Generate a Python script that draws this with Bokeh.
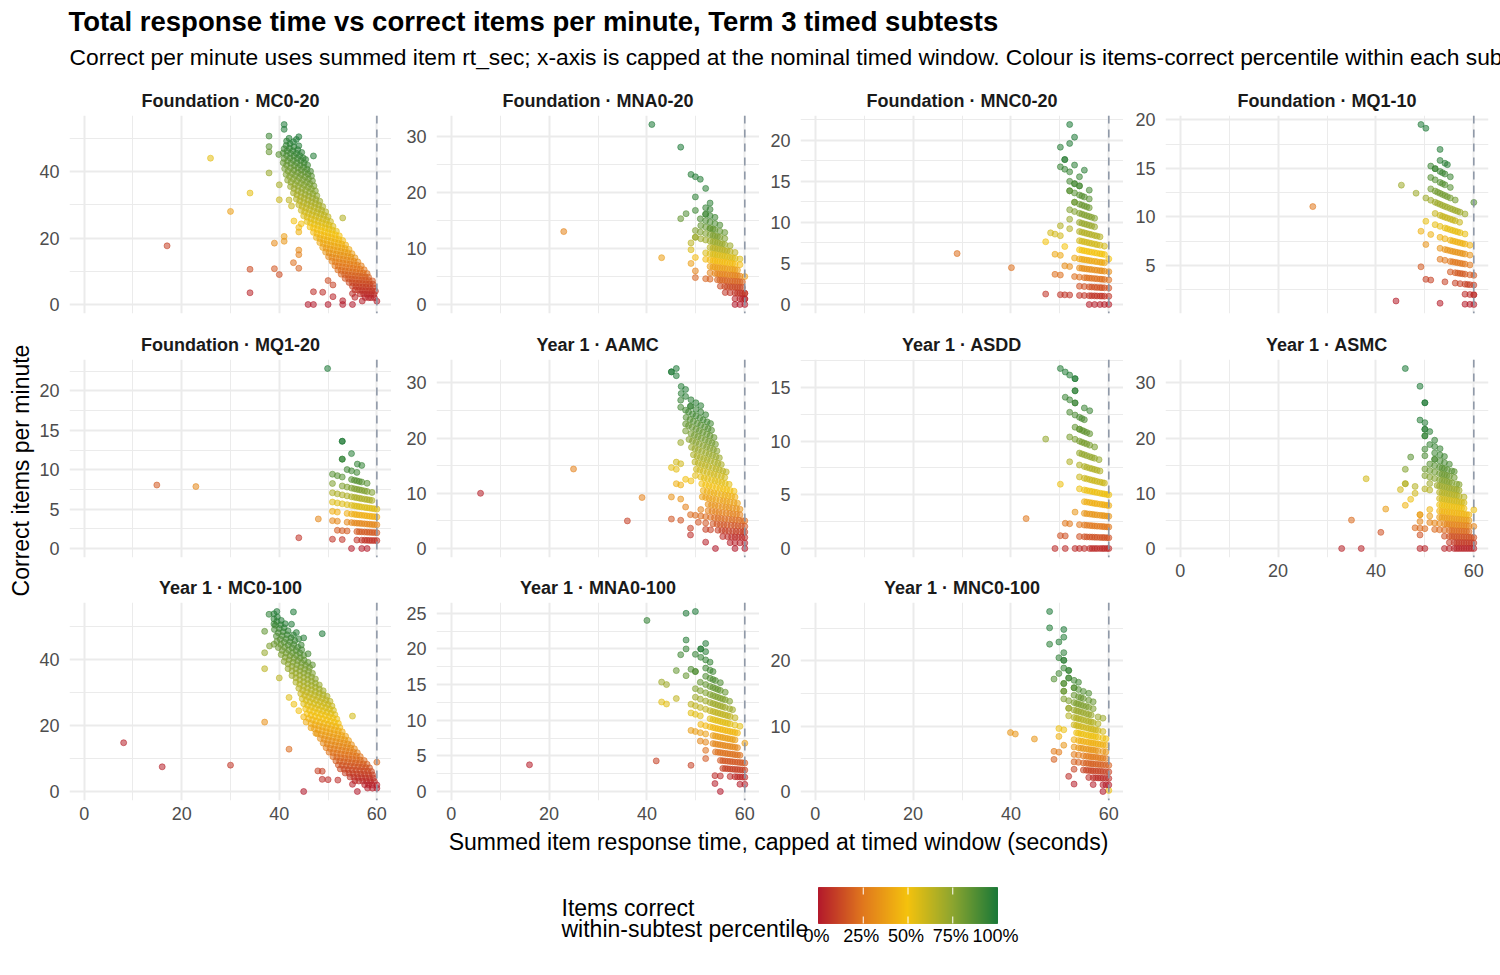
import numpy as np
import pandas as pd
from bokeh.plotting import figure
from bokeh.models import Range1d, FixedTicker, Span, ColumnDataSource
from bokeh.layouts import column, row
from bokeh.embed import file_html
from bokeh.resources import INLINE
from bokeh.core.properties import value

FONT = "Liberation Sans"

TITLE = "Total response time vs correct items per minute, Term 3 timed subtests"
SUBTITLE = ("Correct per minute uses summed item rt_sec; x-axis is capped at the nominal timed window. "
            "Colour is items-correct percentile within each subtest.")
X_TITLE = "Summed item response time, capped at timed window (seconds)"
Y_TITLE = "Correct items per minute"
LEGEND_TITLE = ["Items correct", "within-subtest percentile"]
LEGEND_BREAKS = [0.0, 0.25, 0.5, 0.75, 1.0]
LEGEND_LABELS = ["0%", "25%", "50%", "75%", "100%"]

TIME_WINDOW = 60
X_TICKS = [0, 20, 40, 60]

# Each subtest: (items correct, [summed response time in seconds of each student with that score])
FOUND_MC0_20 = [
    (37, [41.0, 44.0]), (36, [41.0, 43.5]), (35, [42.0, 42.9, 44.0, 47.0]),
    (34, [41.5, 42.2, 43.0, 43.8, 44.6]),
    (33, [41.4, 42.1, 42.8, 43.5, 44.2, 44.9, 45.4]),
    (32, [37.9, 41.0, 41.6, 42.3, 43.0, 43.7, 44.4, 45.1, 45.8]),
    (31, [40.8, 41.5, 42.2, 42.9, 43.6, 44.3, 45.0, 45.7, 46.4]),
    (30, [37.9, 39.9, 41.0, 41.7, 42.4, 43.1, 43.8, 44.5, 45.2, 45.9, 46.6]),
    (29, [37.9, 40.8, 41.5, 42.3, 43.0, 43.8, 44.5, 45.3, 46.0, 46.8]),
    (28, [41.1, 41.8, 42.6, 43.3, 44.1, 44.8, 45.6, 46.3, 47.1]),
    (27, [41.4, 42.1, 42.9, 43.6, 44.4, 45.1, 45.9, 46.6, 47.4]),
    (26, [41.7, 42.4, 43.2, 43.9, 44.7, 45.4, 46.2, 46.9, 47.7]),
    (25, [37.9, 42.3, 43.0, 43.8, 44.5, 45.3, 46.0, 46.8, 47.5, 48.3]),
    (24, [40.0, 42.9, 43.6, 44.4, 45.1, 45.9, 46.6, 47.4, 48.1, 48.9]),
    (23, [43.5, 44.2, 45.0, 45.7, 46.5, 47.2, 48.0, 48.7, 49.5, 53.0]),
    (22, [42.0, 44.0, 44.7, 45.5, 46.2, 47.0, 47.7, 48.5, 49.2, 50.0]),
    (21, [40.0, 42.5, 44.5, 45.2, 46.0, 46.7, 47.5, 48.2, 49.0, 49.7, 50.5]),
    (20, [45.0, 45.7, 46.5, 47.2, 48.0, 48.7, 49.5, 50.2, 51.0]),
    (19, [25.9, 34.0, 45.7, 46.4, 47.2, 47.9, 48.7, 49.4, 50.2, 50.9, 51.7]),
    (18, [43.0, 44.5, 46.3, 47.0, 47.8, 48.5, 49.3, 50.0, 50.8, 51.5, 52.3]),
    (17, [44.0, 47.0, 47.7, 48.5, 49.2, 50.0, 50.7, 51.5, 52.2, 53.0]),
    (16, [44.0, 47.6, 48.3, 49.1, 49.8, 50.6, 51.3, 52.1, 52.8, 53.6]),
    (15, [48.3, 49.0, 49.8, 50.5, 51.3, 52.0, 52.8, 53.5, 54.3]),
    (14, [30.0, 41.0, 48.9, 49.6, 50.4, 51.1, 51.9, 52.6, 53.4, 54.1, 54.9]),
    (13, [41.0, 49.5, 50.2, 51.0, 51.7, 52.5, 53.2, 54.0, 54.7, 55.5]),
    (12, [39.0, 44.0, 50.1, 50.8, 51.6, 52.3, 53.1, 53.8, 54.6, 55.3, 56.1]),
    (11, [44.0, 50.8, 51.5, 52.3, 53.0, 53.8, 54.5, 55.3, 56.0, 56.8]),
    (10, [51.4, 52.1, 52.9, 53.6, 54.4, 55.1, 55.9, 56.6, 57.4]),
    (9, [42.9, 52.0, 52.7, 53.5, 54.2, 55.0, 55.7, 56.5, 57.2, 58.0]),
    (8, [44.0, 52.7, 53.4, 54.1, 54.8, 55.5, 56.2, 56.9, 57.6, 58.3]),
    (7, [39.0, 53.5, 54.2, 54.9, 55.6, 56.3, 57.0, 57.7, 58.4, 59.1]),
    (6, [34.0, 40.0, 50.0, 54.3, 55.0, 55.7, 56.4, 57.1, 57.8, 58.5, 59.2]),
    (5, [17.0, 51.0, 55.0, 55.7, 56.4, 57.1, 57.8, 58.5, 59.2]),
    (4, [55.5, 56.2, 56.9, 57.6, 58.3, 59.0, 59.7]),
    (3, [47.0, 48.9, 55.0, 56.6, 57.3, 58.0, 58.7, 59.4]),
    (2, [34.0, 51.0, 55.5, 57.6, 58.3, 58.8, 59.5]),
    (1, [53.0, 57.0, 60.0]),
    (0, [45.9, 47.0, 50.0, 53.0, 55.0]),
]

FOUND_MNA0_20 = [
    (22, [41.0, 46.9]), (19, [49.0, 49.9, 50.9]), (18, [52.0]), (16, [49.9, 52.9]),
    (15, [52.0, 52.9]), (14, [49.9, 52.0, 52.0, 52.9, 53.9]),
    (13, [48.0, 50.9, 52.0, 52.9, 53.9, 54.9]),
    (12, [46.9, 51.0, 52.0, 52.9, 52.9, 53.5, 53.9, 54.9, 55.9]),
    (11, [49.9, 50.9, 52.0, 52.9, 53.5, 53.9, 54.4, 54.9, 55.9]),
    (10, [49.9, 49.9, 51.0, 52.0, 52.9, 53.5, 53.9, 54.4, 54.9, 55.4, 55.9, 57.0]),
    (9, [49.0, 52.9, 53.5, 53.9, 54.4, 54.9, 55.4, 55.9, 56.4, 57.0, 58.0]),
    (8, [49.0, 52.0, 52.9, 53.5, 53.9, 54.4, 54.9, 55.4, 55.9, 56.4, 57.0, 57.5, 58.0, 59.0]),
    (7, [49.9, 52.0, 52.9, 53.5, 53.9, 54.4, 54.9, 55.4, 55.9, 56.4, 57.0, 57.5, 58.0, 59.0]),
    (6, [43.0, 49.0, 52.9, 53.5, 53.9, 54.4, 54.9, 55.4, 55.9, 56.4, 57.0, 57.5, 58.0, 58.5, 72.0]),
    (5, [23.0, 49.9, 52.9, 53.9, 54.4, 54.9, 55.4, 55.9, 56.4, 57.0, 57.5, 58.0, 58.5, 59.0]),
    (4, [49.9, 52.0, 52.9, 54.4, 54.9, 55.4, 55.9, 56.4, 57.0, 57.5, 58.0, 58.5, 59.0, 59.5]),
    (3, [55.0, 55.9, 56.4, 57.0, 57.5, 58.0, 58.5, 59.0, 59.5]),
    (2, [56.0, 57.0, 58.0, 58.5, 59.0, 59.5, 60.0, 60.0]),
    (1, [58.0, 59.0, 59.5, 60.0, 60.0]),
    (0, [58.0, 59.0, 60.0]),
]

FOUND_MNC0_20 = [
    (19, [52.0]), (18, [53.0]), (17, [52.0]), (16, [50.1]),
    (15, [51.0, 51.0, 53.0, 55.0]), (14, [50.1, 51.0, 52.0, 54.0]),
    (13, [52.0, 53.0, 53.0, 54.0, 54.0, 56.0]),
    (12, [52.0, 52.0, 53.0, 54.0, 54.5, 55.0, 56.0]),
    (11, [53.0, 53.0, 54.0, 54.5, 55.0, 55.5, 56.0]),
    (10, [52.0, 53.0, 54.0, 54.5, 55.0, 55.5, 56.0, 56.5, 57.1]),
    (9, [52.0, 54.0, 54.5, 55.0, 55.5, 56.0, 56.5, 57.1]),
    (8, [50.1, 52.0, 54.0, 54.5, 55.0, 55.5, 56.0, 56.5, 57.1, 57.6, 58.2]),
    (7, [48.1, 49.0, 50.1, 54.0, 54.5, 55.0, 55.5, 56.0, 56.5, 57.1, 57.6, 58.2, 59.1]),
    (6, [47.1, 51.0, 54.0, 54.5, 55.0, 55.5, 56.0, 56.5, 57.1, 57.6, 58.2, 58.6, 59.1, 64.8]),
    (5, [49.0, 50.1, 53.0, 54.0, 54.5, 55.0, 55.5, 56.0, 56.5, 57.1, 57.6, 58.2, 58.6, 59.1]),
    (4, [51.0, 52.0, 54.0, 54.5, 55.0, 55.5, 56.0, 56.5, 57.1, 57.6, 58.2, 58.6, 59.1, 60.0]),
    (3, [29.0, 40.1, 49.0, 50.1, 53.0, 54.0, 55.0, 55.5, 56.0, 56.5, 57.1, 57.6, 58.2, 58.6, 59.1, 60.0]),
    (2, [54.0, 55.0, 56.0, 56.5, 57.1, 57.6, 58.2, 58.6, 59.1, 60.0]),
    (1, [47.1, 50.1, 51.0, 52.0, 54.0, 55.0, 56.0, 56.5, 57.1, 57.6, 58.2, 58.6, 59.1, 60.0]),
    (0, [56.0, 57.1, 58.2, 59.1, 60.0]),
]

FOUND_MQ1_10 = [
    (16, [49.2, 50.2]), (15, [53.1]), (14, [53.1, 54.1, 54.6]),
    (13, [51.2, 52.1, 52.1, 53.1, 53.6, 54.1, 55.2]),
    (12, [51.2, 52.1, 53.1, 53.6, 54.1, 55.2, 62.6]),
    (11, [51.2, 52.1, 52.6, 53.1, 53.6, 54.1, 54.6, 55.2, 56.2]),
    (10, [45.2, 48.2, 50.2, 51.2, 52.1, 52.6, 53.1, 53.6, 54.1, 54.6, 55.2, 55.7, 56.2, 56.7, 57.2, 58.2]),
    (9, [52.1, 53.1, 53.6, 54.1, 54.6, 55.2, 55.7, 56.2, 57.1]),
    (8, [50.2, 52.1, 53.1, 54.1, 54.6, 55.2, 55.7, 56.2, 56.7, 57.2, 58.2]),
    (7, [49.2, 51.2, 53.1, 54.1, 55.2, 55.7, 56.2, 56.7, 57.2, 57.7, 58.2, 59.2]),
    (6, [50.2, 53.1, 54.1, 54.6, 55.2, 55.7, 56.2, 56.7, 57.2, 57.7, 58.2, 59.2]),
    (5, [27.1, 53.1, 54.1, 55.2, 55.7, 56.2, 56.7, 57.2, 57.7, 58.2, 59.2]),
    (4, [49.2, 55.2, 56.2, 56.7, 57.2, 57.7, 58.2, 59.2, 60.0]),
    (3, [50.2, 51.2, 54.1, 56.2, 57.2, 58.2, 58.7, 59.2, 60.0]),
    (2, [58.2, 59.2, 60.0, 60.0]),
    (1, [44.1, 53.1, 58.2, 59.2, 60.0]),
]

FOUND_MQ1_20 = [
    (19, [49.9]), (12, [52.9, 52.9]), (11, [54.8]), (10, [52.9, 52.9, 56.0, 56.9]),
    (9, [53.9, 54.8, 55.9]),
    (8, [50.9, 51.9, 52.9, 54.8, 55.4, 55.9, 56.4, 56.9, 58.0]),
    (7, [50.9, 52.9, 53.9, 54.8, 55.4, 55.9, 56.4, 56.9, 57.5, 58.0, 59.0]),
    (6, [50.9, 51.9, 52.9, 53.9, 54.8, 55.4, 55.9, 56.4, 56.9, 57.5, 58.0, 58.5, 59.0]),
    (5, [50.9, 51.9, 52.9, 53.9, 54.8, 55.4, 55.9, 56.4, 56.9, 57.5, 58.0, 58.5, 59.0, 59.5, 60.0]),
    (4, [50.9, 51.9, 53.9, 54.8, 55.4, 55.9, 56.4, 56.9, 57.5, 58.0, 58.5, 59.0, 59.5, 60.0]),
    (3, [22.9, 48.0, 50.9, 51.9, 53.9, 54.8, 55.4, 55.9, 56.4, 56.9, 57.5, 58.0, 58.5, 59.0, 59.5, 60.0]),
    (2, [14.9, 51.9, 52.9, 53.9, 55.9, 56.4, 56.9, 57.5, 58.0, 58.5, 59.0, 59.5, 60.0]),
    (1, [44.0, 50.9, 52.9, 55.9, 56.9, 57.5, 58.0, 58.5, 59.0, 59.5, 60.0]),
    (0, [54.8, 56.9, 58.0]),
]

Y1_AAMC = [
    (25, [46.0]), (24, [45.0, 45.0, 46.0]), (23, [47.0, 47.9]),
    (22, [47.0, 47.9, 49.0, 50.0, 51.0]), (21, [46.9, 48.9, 48.9, 50.0, 51.0, 52.0]),
    (20, [46.9, 47.9, 48.5, 49.3, 50.0, 50.8, 51.5, 52.3, 53.0]),
    (19, [48.0, 48.8, 49.5, 50.3, 51.0, 51.8, 52.5, 53.2]),
    (18, [47.9, 48.5, 49.2, 50.0, 50.7, 51.4, 52.2, 52.9, 53.7]),
    (17, [47.9, 49.0, 49.7, 50.4, 51.1, 51.9, 52.6, 53.3, 54.0]),
    (16, [48.6, 49.3, 50.0, 50.7, 51.5, 52.2, 52.9, 53.6, 54.3]),
    (15, [46.9, 49.1, 49.8, 50.5, 51.2, 52.0, 52.7, 53.4, 54.1, 54.8]),
    (14, [49.5, 50.2, 50.9, 51.6, 52.3, 53.0, 53.8, 54.5, 55.2]),
    (13, [49.8, 50.5, 51.2, 51.9, 52.6, 53.4, 54.1, 54.8, 55.5, 56.2]),
    (12, [46.0, 46.9, 50.1, 50.8, 51.5, 52.3, 53.0, 53.7, 54.4, 55.2, 55.9]),
    (11, [45.0, 46.0, 49.9, 51.0, 51.7, 52.4, 53.2, 53.9, 54.6, 55.3, 56.0, 56.8]),
    (10, [47.9, 49.0, 51.2, 52.0, 52.7, 53.4, 54.2, 54.9, 55.6, 56.3, 57.0, 57.8]),
    (9, [46.0, 46.9, 51.5, 52.3, 53.0, 53.7, 54.4, 55.2, 55.9, 56.6, 57.3, 58.0]),
    (8, [51.3, 52.0, 52.7, 53.4, 54.1, 54.9, 55.6, 56.3, 57.0, 57.8, 58.5]),
    (7, [45.0, 46.9, 52.5, 53.2, 53.9, 54.6, 55.4, 56.1, 56.8, 57.5, 58.3, 59.0]),
    (6, [25.0, 39.0, 47.9, 51.0, 52.5, 53.3, 54.0, 54.7, 55.4, 56.2, 56.9, 57.6, 58.3, 59.0]),
    (5, [48.9, 49.9, 51.0, 52.0, 53.0, 53.8, 54.5, 55.2, 55.9, 56.7, 57.4, 58.1, 58.8, 59.5, 60.0]),
    (4, [45.0, 46.9, 50.5, 52.0, 53.5, 54.3, 55.0, 55.7, 56.4, 57.2, 57.9, 58.6, 59.3, 60.0]),
    (3, [36.0, 48.9, 52.0, 53.0, 54.5, 55.3, 56.0, 56.7, 57.5, 58.2, 58.9, 59.6, 60.0]),
    (2, [48.9, 55.5, 56.5, 57.3, 58.0, 58.7, 59.4, 60.0]),
    (1, [6.0, 52.0, 57.0, 58.0, 59.0, 60.0]),
    (0, [54.0, 58.0, 60.0]),
]

Y1_ASDD = [
    (14, [50.1, 51.1, 52.0, 53.1, 53.1]), (13, [53.1, 53.1]),
    (12, [51.1, 52.0, 53.1, 53.1, 55.0, 56.1]),
    (11, [52.0, 53.1, 54.0, 54.5, 55.0]),
    (10, [53.1, 54.0, 54.0, 54.6, 55.0, 55.5, 56.1]),
    (9, [52.0, 53.1, 54.0, 54.5, 55.0, 55.5, 56.1, 57.1]),
    (8, [47.1, 54.0, 54.5, 55.0, 55.5, 56.1, 56.6, 57.1, 58.0]),
    (7, [52.0, 54.0, 55.0, 55.5, 56.1, 56.6, 57.1, 57.6, 58.2]),
    (6, [54.0, 55.0, 55.5, 56.1, 56.6, 57.1, 57.6, 58.2, 58.7, 59.1]),
    (5, [50.1, 54.0, 55.0, 55.5, 56.1, 56.6, 57.1, 57.6, 58.2, 58.7, 59.1, 59.6, 60.0]),
    (4, [55.0, 55.5, 56.1, 56.6, 57.1, 57.6, 58.2, 58.7, 59.1, 59.6, 60.0]),
    (3, [53.1, 55.0, 55.5, 56.1, 56.6, 57.1, 57.6, 58.2, 58.7, 59.1, 59.6, 60.0]),
    (2, [43.1, 51.1, 52.0, 54.0, 55.0, 55.5, 56.1, 56.6, 57.1, 57.6, 58.2, 58.7, 59.1, 59.6, 60.0]),
    (1, [50.1, 51.1, 54.0, 55.0, 55.5, 56.1, 56.6, 57.1, 57.6, 58.2, 58.7, 59.1, 59.6, 60.0]),
    (0, [49.0, 51.1, 53.1, 54.0, 55.0, 56.1, 56.6, 57.1, 57.6, 58.2, 58.7, 59.1, 59.6, 60.0]),
]

Y1_ASMC = [
    (25, [46.0]), (24, [49.0]), (22, [50.0, 50.0]), (19, [49.0, 50.0]),
    (18, [50.0, 50.0, 51.0]), (17, [50.0, 50.0, 52.0]), (16, [51.0, 52.0, 53.1]),
    (15, [50.0, 52.0, 53.1, 54.0]), (14, [50.0, 52.0, 52.0, 53.1, 54.0, 55.0]),
    (13, [47.1, 51.0, 52.0, 53.0, 53.5, 54.0, 54.6, 55.5, 56.0]),
    (12, [50.0, 51.0, 52.0, 53.0, 53.5, 54.0, 54.5, 55.0, 56.0]),
    (11, [46.0, 50.0, 51.0, 52.0, 53.0, 53.5, 54.0, 54.5, 55.0, 55.5, 56.5, 57.0]),
    (10, [51.0, 52.5, 53.0, 53.5, 54.0, 54.5, 55.0, 55.5, 56.0, 56.5, 57.0]),
    (9, [46.0, 46.0, 48.0, 50.0, 51.0, 53.0, 53.5, 54.0, 54.5, 55.0, 55.5, 56.0, 56.5, 57.0, 58.0]),
    (8, [38.0, 45.0, 48.0, 53.0, 53.5, 54.0, 54.5, 55.0, 55.5, 56.0, 56.5, 57.0, 57.5, 58.0]),
    (7, [47.1, 53.0, 53.5, 54.0, 54.5, 55.0, 55.5, 56.0, 56.5, 57.0, 57.5, 58.0, 60.0]),
    (6, [46.0, 51.0, 53.0, 53.5, 54.0, 54.5, 55.0, 55.5, 56.0, 56.5, 57.0, 57.5, 58.0, 58.5, 59.0]),
    (5, [42.0, 49.0, 49.0, 51.0, 53.0, 53.5, 54.0, 54.5, 55.0, 55.5, 56.0, 56.5, 57.0, 57.5, 58.0, 58.5, 59.0]),
    (4, [49.0, 51.0, 52.0, 53.0, 54.0, 54.5, 55.0, 55.5, 56.0, 56.5, 57.0, 57.5, 58.0, 58.5, 59.0, 60.0]),
    (3, [35.0, 48.0, 49.0, 50.0, 52.0, 53.0, 54.0, 55.0, 55.5, 56.0, 56.5, 57.0, 57.5, 58.0, 58.5, 59.0]),
    (2, [41.0, 49.0, 54.0, 55.0, 55.5, 56.0, 56.5, 57.0, 57.5, 58.0, 58.5, 59.0, 59.5, 60.0]),
    (1, [55.0, 56.0, 56.5, 57.0, 57.5, 58.0, 58.5, 59.0, 59.5, 60.0]),
    (0, [33.0, 37.0, 49.0, 50.0, 54.0, 55.0, 56.0, 56.5, 57.0, 57.5, 58.0, 58.5, 59.0, 59.5, 60.0]),
]

Y1_MC0_100 = [
    (39, [42.9, 48.8]), (36, [39.5, 42.5]), (35, [38.9, 39.6, 40.4, 41.2, 43.5, 45.0]),
    (34, [37.9, 38.9, 39.5, 40.3, 41.0, 41.8, 42.9, 44.0]),
    (33, [38.9, 39.2, 40.0, 40.8, 41.6, 42.4, 43.2, 44.5]),
    (32, [39.0, 39.8, 40.6, 41.4, 42.2, 43.0, 43.8, 44.6, 45.9]),
    (31, [39.4, 40.2, 41.0, 41.8, 42.6, 43.4, 44.2, 45.0]),
    (30, [37.0, 39.5, 40.3, 41.1, 41.9, 42.7, 43.5, 44.3, 45.1, 45.9, 46.8]),
    (29, [38.9, 39.8, 40.6, 41.4, 42.2, 43.0, 43.8, 44.6, 45.4, 46.2]),
    (28, [38.0, 40.4, 41.2, 42.0, 42.8, 43.6, 44.4, 45.2, 46.0, 46.8]),
    (27, [41.0, 41.8, 42.6, 43.4, 44.2, 45.0, 45.8, 46.6, 47.4]),
    (26, [37.0, 41.8, 42.6, 43.4, 44.2, 45.0, 45.8, 46.6, 47.4, 48.2]),
    (25, [42.6, 43.4, 44.2, 45.0, 45.8, 46.6, 47.4, 48.2, 49.0]),
    (24, [43.4, 44.2, 45.0, 45.8, 46.6, 47.4, 48.2, 49.0, 49.8]),
    (23, [37.0, 40.0, 44.0, 44.8, 45.6, 46.4, 47.2, 48.0, 48.8, 49.6, 50.4]),
    (22, [44.4, 45.2, 46.0, 46.8, 47.6, 48.4, 49.2, 50.0, 50.8]),
    (21, [44.7, 45.5, 46.3, 47.1, 47.9, 48.7, 49.5, 50.3, 51.1, 55.0]),
    (20, [42.0, 45.0, 45.8, 46.6, 47.4, 48.2, 49.0, 49.8, 50.6, 51.4]),
    (19, [43.0, 45.4, 46.2, 47.0, 47.8, 48.6, 49.4, 50.2, 51.0, 51.8]),
    (18, [44.0, 45.7, 46.5, 47.3, 48.1, 48.9, 49.7, 50.5, 51.3, 52.1]),
    (17, [45.0, 46.0, 46.8, 47.6, 48.4, 49.2, 50.0, 50.8, 51.6, 52.4]),
    (16, [45.5, 46.5, 47.3, 48.1, 48.9, 49.7, 50.5, 51.3, 52.1, 52.9]),
    (15, [46.5, 47.2, 48.0, 48.8, 49.6, 50.4, 51.2, 52.0, 52.8, 53.6]),
    (14, [47.5, 47.8, 48.6, 49.4, 50.2, 51.0, 51.8, 52.6, 53.4, 54.2]),
    (13, [37.0, 48.4, 49.2, 50.0, 50.8, 51.6, 52.4, 53.2, 54.0, 54.8]),
    (12, [49.0, 49.8, 50.6, 51.4, 52.2, 53.0, 53.8, 54.6, 55.4]),
    (11, [49.6, 50.4, 51.2, 52.0, 52.8, 53.6, 54.4, 55.2, 56.0]),
    (10, [50.2, 51.0, 51.8, 52.6, 53.4, 54.2, 55.0, 55.8, 56.6]),
    (9, [42.0, 51.0, 51.8, 52.6, 53.4, 54.2, 55.0, 55.8, 56.6, 57.4, 60.6]),
    (8, [51.6, 52.4, 53.2, 54.0, 54.8, 55.6, 56.4, 57.2, 58.0]),
    (7, [52.1, 52.9, 53.7, 54.5, 55.3, 56.1, 56.9, 57.7, 58.5]),
    (6, [52.5, 53.3, 54.1, 54.9, 55.7, 56.5, 57.3, 58.1, 58.9]),
    (5, [47.9, 48.8, 53.5, 54.3, 55.1, 55.9, 56.7, 57.5, 58.3, 59.1]),
    (4, [30.0, 54.5, 55.3, 56.1, 56.9, 57.7, 58.5, 59.3]),
    (3, [48.8, 50.0, 52.0, 55.5, 56.3, 57.1, 57.9, 58.7, 59.5]),
    (2, [8.1, 16.0, 55.0, 57.5, 58.3, 59.0, 60.0]),
    (1, [58.1, 59.1, 60.0]),
    (0, [45.0, 56.0]),
]

Y1_MNA0_100 = [
    (21, [49.9]), (20, [48.0]), (18, [52.0]), (17, [48.0, 51.0, 51.0, 52.0]),
    (16, [40.0, 48.0, 49.9, 51.0, 52.0, 52.9]), (15, [46.9, 52.0, 52.9, 53.5]),
    (14, [49.0, 49.9, 49.9, 52.0, 52.9, 53.5, 54.0, 55.0]),
    (13, [46.0, 48.0, 50.9, 52.0, 52.9, 53.5, 54.0, 54.5, 55.0, 56.0]),
    (12, [49.9, 50.9, 52.0, 52.9, 53.5, 54.0, 54.5, 55.0, 55.5, 56.0, 56.9]),
    (11, [43.0, 44.0, 49.9, 50.9, 52.0, 52.9, 53.5, 54.0, 54.5, 55.0, 55.5, 56.0, 56.9, 57.5]),
    (10, [46.0, 49.0, 49.9, 50.9, 52.0, 52.9, 53.5, 54.0, 54.5, 55.0, 55.5, 56.0, 56.5, 57.0, 58.0]),
    (9, [43.0, 44.0, 49.0, 49.9, 50.9, 52.9, 53.5, 54.0, 54.5, 55.0, 55.5, 56.0, 56.5, 57.0, 58.0, 59.0]),
    (8, [51.0, 52.0, 52.9, 53.5, 54.0, 54.5, 55.0, 55.5, 56.0, 56.5, 57.0, 57.5, 58.0, 58.5]),
    (7, [49.0, 49.9, 50.9, 52.0, 53.5, 54.0, 54.5, 55.0, 55.5, 56.0, 56.5, 57.0, 57.5, 58.0, 62.0]),
    (6, [50.9, 52.0, 53.5, 54.0, 54.5, 55.0, 55.5, 56.0, 56.5, 57.0, 57.5, 58.0, 58.5]),
    (5, [52.0, 54.0, 54.5, 55.0, 55.5, 56.0, 56.5, 57.0, 57.5, 58.0, 58.5, 59.0]),
    (4, [52.0, 55.0, 55.5, 56.0, 56.5, 57.0, 57.5, 58.0, 58.5, 59.0, 59.5, 60.0]),
    (3, [41.9, 49.0, 55.5, 56.0, 56.5, 57.0, 57.5, 58.0, 58.5, 59.0, 59.5, 60.0]),
    (2, [53.9, 55.0, 57.0, 58.0, 58.5, 59.0, 59.5, 60.0]),
    (1, [16.0, 53.9, 59.0, 60.0]),
    (0, [55.0]),
]

Y1_MNC0_100 = [
    (22, [47.9]), (21, [50.8]), (20, [47.9, 50.8]), (19, [49.8]), (18, [47.9, 50.8]),
    (17, [49.8, 50.8, 50.8]), (16, [50.8, 51.8, 51.8]),
    (15, [49.8, 51.8, 51.8, 52.9, 53.8]),
    (14, [48.8, 50.8, 50.8, 52.9, 52.9, 53.8, 54.8, 55.9]),
    (13, [50.8, 50.8, 52.9, 53.8, 54.3, 54.8, 55.9, 56.8]),
    (12, [50.8, 51.8, 52.9, 53.4, 53.8, 54.3, 54.8, 55.4, 55.9, 56.8]),
    (11, [51.8, 51.8, 52.9, 53.4, 53.8, 54.3, 54.8, 55.4, 55.9, 56.4, 57.8, 58.8]),
    (10, [51.8, 52.9, 53.4, 53.8, 54.3, 54.8, 55.4, 55.9, 56.4, 56.8, 57.8]),
    (9, [52.9, 53.4, 53.8, 54.3, 54.8, 55.4, 55.9, 56.4, 56.8, 57.3, 57.8, 58.8]),
    (8, [49.8, 50.8, 53.4, 53.8, 54.3, 54.8, 55.4, 55.9, 56.4, 56.8, 57.3, 57.8, 58.8, 59.4, 3000.0]),
    (7, [49.8, 52.9, 53.8, 54.3, 54.8, 55.4, 55.9, 56.4, 56.8, 57.3, 57.8, 58.3, 58.8, 59.4]),
    (6, [39.9, 40.9, 44.8, 50.8, 52.9, 53.8, 54.3, 54.8, 55.4, 55.9, 56.4, 56.8, 57.3, 57.8, 58.8, 59.4]),
    (5, [48.8, 49.8, 52.9, 53.8, 54.8, 55.4, 55.9, 56.4, 56.8, 57.3, 57.8, 58.3, 58.8, 59.4]),
    (4, [48.8, 52.9, 53.8, 54.8, 55.4, 55.9, 56.4, 56.8, 57.3, 57.8, 58.3, 58.8, 59.4, 60.0]),
    (3, [52.9, 54.8, 55.4, 55.9, 56.4, 56.8, 57.3, 57.8, 58.3, 58.8, 59.4, 60.0]),
    (2, [51.8, 55.9, 56.8, 57.3, 57.8, 58.3, 58.8, 59.4, 60.0]),
    (1, [52.9, 56.8, 58.8, 59.4, 60.0]),
    (0, [58.8]),
]

PANEL_TITLES = [
    "Foundation · MC0-20", "Foundation · MNA0-20", "Foundation · MNC0-20", "Foundation · MQ1-10",
    "Foundation · MQ1-20", "Year 1 · AAMC", "Year 1 · ASDD", "Year 1 · ASMC",
    "Year 1 · MC0-100", "Year 1 · MNA0-100", "Year 1 · MNC0-100",
]
PANEL_DATA = [
    FOUND_MC0_20, FOUND_MNA0_20, FOUND_MNC0_20, FOUND_MQ1_10,
    FOUND_MQ1_20, Y1_AAMC, Y1_ASDD, Y1_ASMC,
    Y1_MC0_100, Y1_MNA0_100, Y1_MNC0_100,
]
PANEL_Y_TICKS = [
    [0, 20, 40], [0, 10, 20, 30], [0, 5, 10, 15, 20], [5, 10, 15, 20],
    [0, 5, 10, 15, 20], [0, 10, 20, 30], [0, 5, 10, 15], [0, 10, 20, 30],
    [0, 20, 40], [0, 5, 10, 15, 20, 25], [0, 10, 20],
]

# red -> orange -> yellow -> olive -> green
STOPS = ["#B2182B", "#E0771D", "#F4C20D", "#8DA52F", "#1B7837"]


def _rgb(h):
    return [int(h[i:i + 2], 16) for i in (1, 3, 5)]


STOP_RGB = np.array([_rgb(c) for c in STOPS], dtype=float)
STOP_POS = np.linspace(0.0, 1.0, len(STOPS))


def ramp(frac):
    frac = np.clip(np.asarray(frac, dtype=float), 0.0, 1.0)
    chans = [np.interp(frac, STOP_POS, STOP_RGB[:, i]) for i in range(3)]
    return ["#%02x%02x%02x" % (int(round(r)), int(round(g)), int(round(b)))
            for r, g, b in zip(*chans)]


def subtest_frame(bands):
    correct, secs = [], []
    for k, times in bands:
        for t in times:
            correct.append(k)
            secs.append(t)
    df = pd.DataFrame({"correct": correct, "rt_sec": secs})
    df["per_min"] = 60.0 * df["correct"] / df["rt_sec"]
    df["time_capped"] = df["rt_sec"].clip(upper=TIME_WINDOW)
    n = len(df)
    df["pct"] = (df["correct"].rank(method="average") - 1) / (n - 1)
    df["color"] = ramp(df["pct"])
    return df


def minor_between(ticks, lo, hi):
    step = ticks[1] - ticks[0]
    cand = [ticks[0] - step / 2 + i * step for i in range(len(ticks) + 1)]
    return [c for c in cand if lo <= c <= hi]


# panel geometry (pixels)
YLAB_W = 36
FRAME_W, FRAME_H = 323, 198
LEFT = [68 - YLAB_W, 45, 41, 42]
RIGHT = [0, 0, 0, 12]
TOPS = [33, 33, 32]
BOTTOM_PLAIN, BOTTOM_AXIS = 13, 27
ROW_H = [TOPS[0] + FRAME_H + BOTTOM_PLAIN, TOPS[1] + FRAME_H + BOTTOM_PLAIN,
         TOPS[2] + FRAME_H + BOTTOM_AXIS]

TEXT_GREY = "#4D4D4D"
GRID = "#EBEBEB"


def make_panel(i):
    r, c = divmod(i, 4)
    show_x = (r == 2) or (r == 1 and c == 3)
    bottom = BOTTOM_AXIS if show_x else BOTTOM_PLAIN
    top = TOPS[r]
    df = subtest_frame(PANEL_DATA[i])
    ylo, yhi = df["per_min"].min(), df["per_min"].max()
    pad = 0.05 * (yhi - ylo)
    ylo, yhi = ylo - pad, yhi + pad
    xpad = 0.05 * (X_TICKS[-1] - X_TICKS[0])

    p = figure(width=LEFT[c] + FRAME_W + RIGHT[c], height=top + FRAME_H + bottom,
               x_range=Range1d(X_TICKS[0] - xpad, X_TICKS[-1] + xpad),
               y_range=Range1d(ylo, yhi),
               min_border_left=LEFT[c], min_border_right=RIGHT[c],
               min_border_top=top, min_border_bottom=bottom,
               title=PANEL_TITLES[i], tools="", toolbar_location=None,
               output_backend="svg")
    p.outline_line_color = None
    p.background_fill_color = "white"
    p.border_fill_color = "white"

    p.title.align = "center"
    p.title.text_font = FONT
    p.title.text_font_size = "18px"
    p.title.text_font_style = "bold"
    p.title.text_color = "#1A1A1A"
    p.title.standoff = 10

    yt = PANEL_Y_TICKS[i]
    xticker = FixedTicker(ticks=X_TICKS, minor_ticks=[10, 30, 50])
    yticker = FixedTicker(ticks=yt, minor_ticks=minor_between(yt, ylo, yhi))
    p.xaxis.ticker = xticker
    p.yaxis.ticker = yticker
    p.xgrid.ticker = xticker
    p.ygrid.ticker = yticker
    for g in (p.xgrid, p.ygrid):
        g.grid_line_color = GRID
        g.grid_line_width = 2
        g.minor_grid_line_color = GRID
        g.minor_grid_line_width = 1

    for ax in (p.xaxis, p.yaxis):
        ax.axis_line_color = None
        ax.major_tick_line_color = None
        ax.minor_tick_line_color = None
        ax.major_tick_out = 0
        ax.major_tick_in = 0
        ax.minor_tick_out = 0
        ax.major_label_text_font = FONT
        ax.major_label_text_font_size = "18px"
        ax.major_label_text_color = TEXT_GREY
    p.yaxis.major_label_standoff = 10
    p.xaxis.major_label_standoff = 6
    p.xaxis.visible = show_x

    p.add_layout(Span(location=TIME_WINDOW, dimension="height", line_color="#8A94A4",
                      line_width=1.5, line_dash="8 6"))

    src = ColumnDataSource(dict(x=df["time_capped"], y=df["per_min"], color=df["color"]))
    p.scatter("x", "y", source=src, size=6, marker="circle",
              fill_color="color", line_color="color",
              fill_alpha=0.55, line_alpha=0.55, line_width=1)
    return p


def blank(width, height, flip=True):
    yr = Range1d(height, 0) if flip else Range1d(0, height)
    f = figure(width=width, height=height, x_range=Range1d(0, width),
               y_range=yr, min_border=0, tools="",
               toolbar_location=None, output_backend="svg")
    f.axis.visible = False
    f.grid.visible = False
    f.outline_line_color = None
    f.background_fill_color = "white"
    f.border_fill_color = "white"
    return f


panels = [make_panel(i) for i in range(len(PANEL_TITLES))]

HEAD_H = 82
header = blank(1500, HEAD_H)
header.text(x=[68], y=[21], text=[TITLE], text_font=value(FONT), text_font_size="27.5px",
            text_font_style="bold", text_color="black", text_baseline="alphabetic",
            text_align="left")
header.text(x=[69], y=[56], text=[SUBTITLE], text_font=value(FONT), text_font_size="22.8px",
            text_color="black", text_baseline="alphabetic", text_align="left")

# shared y-axis title, drawn in its own strip left of the panels
GRID_H = sum(ROW_H)
ylab = blank(YLAB_W, GRID_H, flip=False)
ylab.text(x=[20], y=[GRID_H - (470 - HEAD_H)], text=[Y_TITLE], angle=np.pi / 2,
          text_font=value(FONT), text_font_size="23px", text_color="black",
          text_baseline="middle", text_align="center")

FOOT_TOP = HEAD_H + GRID_H
FOOT_H = 975 - FOOT_TOP
footer = blank(1500, FOOT_H)
footer.text(x=[778], y=[841 - FOOT_TOP], text=[X_TITLE], text_font=value(FONT),
            text_font_size="23px", text_color="black", text_baseline="alphabetic",
            text_align="center")
footer.text(x=[561, 561], y=[907 - FOOT_TOP, 928 - FOOT_TOP], text=LEGEND_TITLE,
            text_font=value(FONT), text_font_size="23px", text_color="black",
            text_baseline="alphabetic", text_align="left")

# colour bar
BAR_X0, BAR_W, BAR_Y0, BAR_H = 818, 179, 887 - FOOT_TOP, 36
steps = np.arange(BAR_W)
bar_cols = ramp((steps + 0.5) / BAR_W)
footer.quad(left=BAR_X0 + steps, right=BAR_X0 + steps + 1, top=BAR_Y0,
            bottom=BAR_Y0 + BAR_H, fill_color=bar_cols, line_color=bar_cols, line_width=1)
tick_x = [BAR_X0 + b * BAR_W for b in LEGEND_BREAKS]
inner = tick_x[1:-1]
footer.segment(x0=inner, x1=inner, y0=[BAR_Y0] * 3, y1=[BAR_Y0 + 7] * 3,
               line_color="white", line_width=1)
footer.segment(x0=inner, x1=inner, y0=[BAR_Y0 + BAR_H - 7] * 3, y1=[BAR_Y0 + BAR_H] * 3,
               line_color="white", line_width=1)
footer.text(x=[tx - 2 for tx in tick_x], y=[935 - FOOT_TOP] * 5, text=LEGEND_LABELS,
            text_font=value(FONT), text_font_size="18px", text_color="black",
            text_baseline="alphabetic", text_align="center")

grid_cols = [
    column(panels[0], panels[4], panels[8], spacing=0),
    column(panels[1], panels[5], panels[9], spacing=0),
    column(panels[2], panels[6], panels[10], spacing=0),
    column(panels[3], panels[7], spacing=0),
]
page = column(header, row(ylab, *grid_cols, spacing=0), footer, spacing=0)

open("out.html", "w").write(file_html(page, INLINE))
